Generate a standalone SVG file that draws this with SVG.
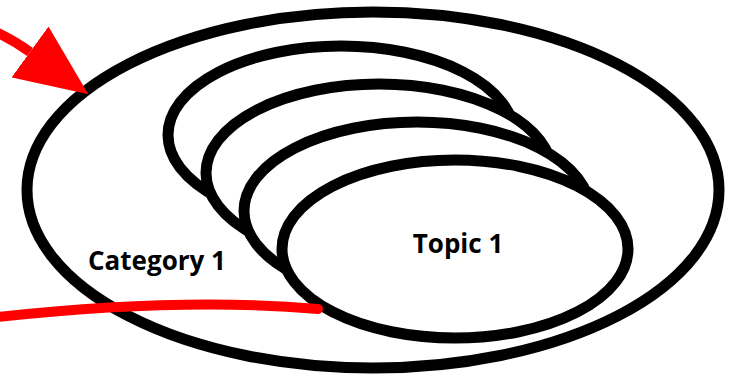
<svg xmlns="http://www.w3.org/2000/svg" width="736" height="378" viewBox="0 0 736 378">
  <style>
    .ring { fill: #ffffff; stroke: #000000; stroke-width: 11; }
    .label { font-family: "Open Sans", "Liberation Sans", sans-serif; font-weight: bold; font-size: 26px; fill: #000000; }
    .red { fill: none; stroke: #ff0000; stroke-width: 10; }
  </style>
  <defs>
    <marker id="bigArrow" viewBox="0 0 72 63" refX="0" refY="31.5" markerWidth="72" markerHeight="63" markerUnits="userSpaceOnUse" orient="auto">
      <path d="M0,0 L72,31.5 L0,63 z" fill="#ff0000"/>
    </marker>
  </defs>
  <rect width="736" height="378" fill="#ffffff"/>
  <g id="category1">
    <ellipse class="ring" cx="373" cy="190" rx="346" ry="178"/>
    <text class="label" x="157" y="270" text-anchor="middle">Category 1</text>
  </g>
  <g id="topic4">
    <ellipse class="ring" cx="341" cy="135" rx="173" ry="89"/>
  </g>
  <g id="topic3">
    <ellipse class="ring" cx="379" cy="173" rx="173" ry="89"/>
  </g>
  <g id="topic2">
    <ellipse class="ring" cx="417" cy="211" rx="173" ry="89"/>
  </g>
  <g id="topic1">
    <ellipse class="ring" cx="455" cy="249" rx="173" ry="89"/>
    <text class="label" x="458" y="253" text-anchor="middle">Topic 1</text>
  </g>
  <g id="connectors">
    <path class="red" d="M-2,33 Q15.5,41.5 30,52" marker-end="url(#bigArrow)"/>
    <path class="red" d="M-2,317 Q181,297 318,309" stroke-linecap="round"/>
  </g>
</svg>
